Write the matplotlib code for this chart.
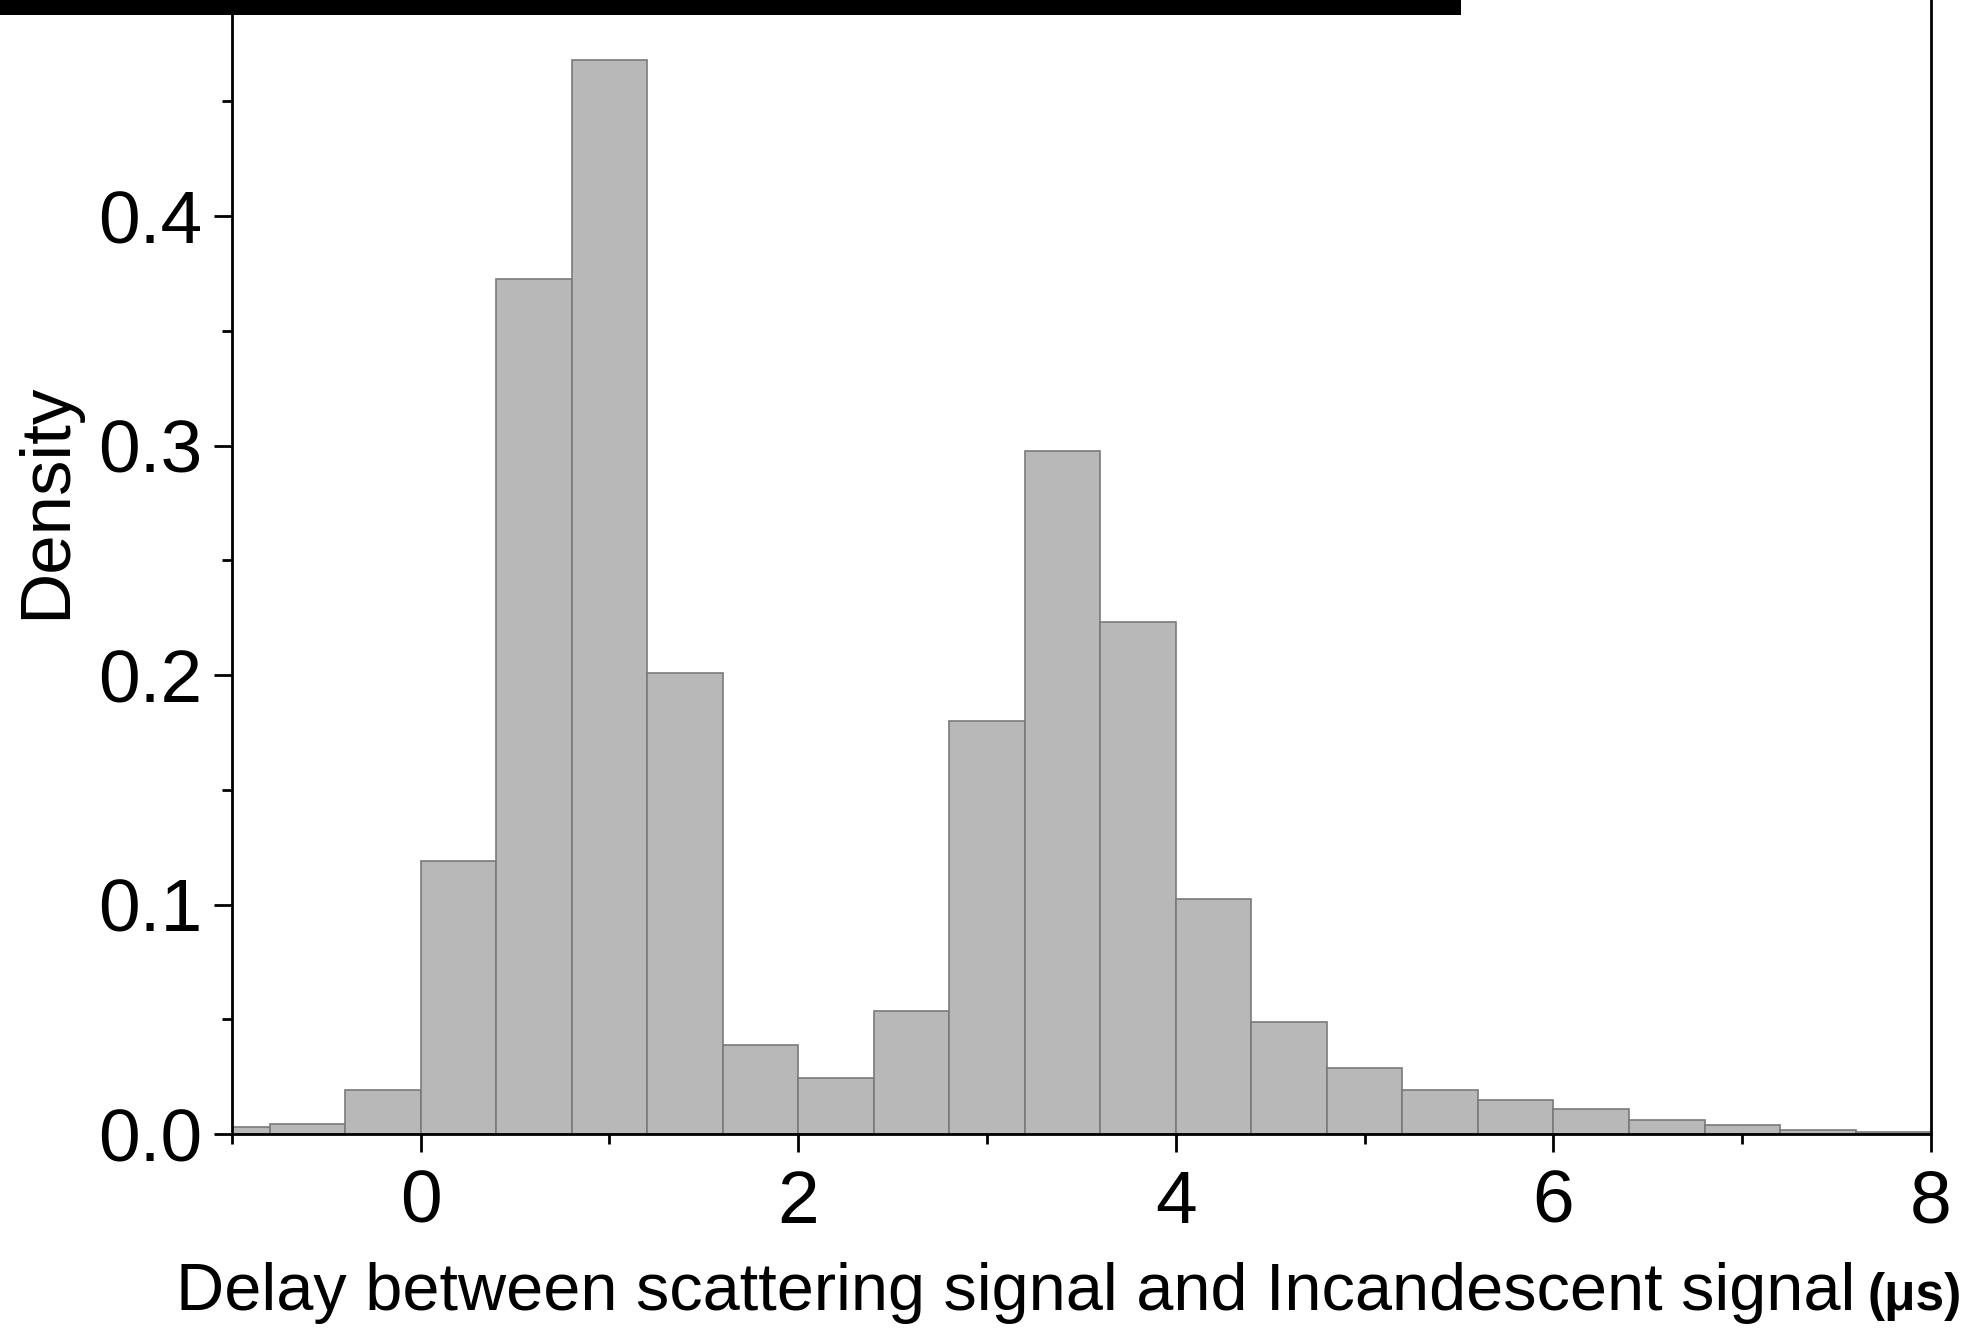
import numpy as np
import matplotlib
matplotlib.use("Agg")
import matplotlib.pyplot as plt
from matplotlib.ticker import MultipleLocator, FormatStrFormatter
from matplotlib.patches import Rectangle

# histogram of delay times, 0.4 us bins
bin_edges = [-1.2, -0.8, -0.4, 0.0, 0.4, 0.8, 1.2, 1.6, 2.0, 2.4, 2.8, 3.2,
             3.6, 4.0, 4.4, 4.8, 5.2, 5.6, 6.0, 6.4, 6.8, 7.2, 7.6, 8.0]
density = [0.003, 0.0045, 0.019, 0.119, 0.3725, 0.468, 0.201, 0.039, 0.0242,
           0.0534, 0.180, 0.2975, 0.223, 0.1025, 0.049, 0.0287, 0.0193, 0.0149,
           0.011, 0.006, 0.004, 0.0017, 0.001]
x_ticks = [0, 2, 4, 6, 8]
y_ticks = [0.0, 0.1, 0.2, 0.3, 0.4]

plt.rcParams['font.family'] = ['Liberation Sans', 'DejaVu Sans']

fig = plt.figure(figsize=(19.82, 13.31), dpi=100)
ax = fig.add_axes([0.117, 0.148, 0.8573, 0.862])

edges = np.array(bin_edges)
ax.bar(edges[:-1], density, width=np.diff(edges), align='edge',
       color='#b8b8b8', edgecolor='#7a7a7a', linewidth=1.2)

ax.set_xlim(-1, 8)
ax.set_ylim(0, 0.5)
ax.set_xticks(x_ticks)
ax.set_yticks(y_ticks)
ax.xaxis.set_minor_locator(MultipleLocator(1))
ax.yaxis.set_minor_locator(MultipleLocator(0.05))
ax.yaxis.set_major_formatter(FormatStrFormatter('%.1f'))

for s in ax.spines.values():
    s.set_linewidth(2.0)
ax.tick_params(which='major', direction='out', length=13, width=2,
               labelsize=54, pad=8)
ax.tick_params(which='minor', direction='out', length=7, width=2)
ax.tick_params(axis='x', which='major', pad=12)

fig.text(0.024, 0.624, 'Density', rotation=90, ha='center', va='center',
         fontsize=51)
fig.text(0.936, 0.016, 'Delay between scattering signal and Incandescent signal',
         ha='right', va='baseline', fontsize=48)
fig.text(0.942, 0.016, '(μs)', ha='left', va='baseline', fontsize=37,
         fontweight='bold')

# black strip along the top edge
fig.patches.append(Rectangle((0, 0.9887), 0.737, 0.0113, transform=fig.transFigure,
                             facecolor='black', edgecolor='none'))

fig.savefig('out.png', dpi=100)
